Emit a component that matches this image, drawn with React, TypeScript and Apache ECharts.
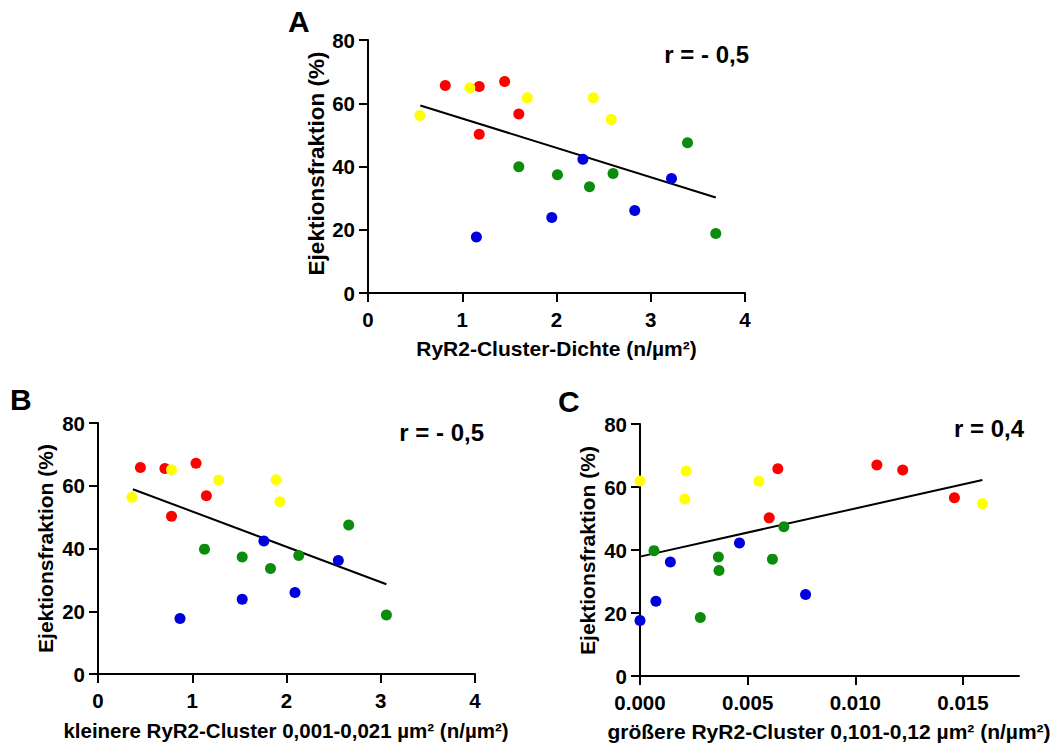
import React, { useEffect, useRef } from "react";
import * as echarts from "echarts";

// ---------- data ----------
const yTicks = [0, 20, 40, 60, 80];
const abTicks = [0, 1, 2, 3, 4];
const cTicks = [0, 0.005, 0.01, 0.015];

// Panel A: RyR2-Cluster-Dichte vs EF
const aRed = [[0.82, 65.6], [1.18, 65.3], [1.45, 66.9], [1.6, 56.6], [1.18, 50.2]];
const aYellow = [[0.55, 56.1], [1.08, 64.9], [1.69, 61.7], [2.39, 61.7], [2.58, 54.9]];
const aGreen = [[3.39, 47.5], [1.6, 39.9], [2.01, 37.4], [2.6, 37.8], [2.35, 33.6], [3.69, 18.8]];
const aBlue = [[2.28, 42.3], [3.22, 36.2], [2.83, 26.1], [1.95, 23.9], [1.15, 17.7]];
const aTrend = [[0.555, 59.3], [3.69, 30.2]];

// Panel B: kleinere Cluster
const bRed = [[0.45, 65.8], [0.71, 65.5], [1.04, 67.2], [1.15, 56.8], [0.78, 50.3]];
const bYellow = [[0.36, 56.3], [0.78, 65.1], [1.28, 61.8], [1.89, 61.9], [1.93, 54.9]];
const bGreen = [[2.66, 47.5], [1.13, 39.8], [1.53, 37.3], [2.13, 37.8], [1.83, 33.6], [3.06, 18.8]];
const bBlue = [[1.76, 42.4], [2.55, 36.2], [2.09, 26.0], [1.53, 23.8], [0.87, 17.7]];
const bTrend = [[0.37, 58.9], [3.06, 28.6]];

// Panel C: größere Cluster
const cRed = [[0.0064, 65.8], [0.006, 50.2], [0.011, 67.0], [0.0122, 65.4], [0.0146, 56.6]];
const cYellow = [[0, 61.9], [0.00214, 65.1], [0.00208, 56.2], [0.00552, 61.8], [0.0159, 54.7]];
const cGreen = [[0.00065, 39.8], [0.00364, 37.8], [0.00367, 33.5], [0.0028, 18.6], [0.00615, 37.1], [0.00668, 47.4]];
const cBlue = [[0, 17.6], [0.00074, 23.7], [0.00141, 36.2], [0.00462, 42.2], [0.00769, 25.9]];
const cTrend = [[0, 37.9], [0.0159, 62.2]];

const panelLetters = ["A", "B", "C"];
const rLabels = ["r = - 0,5", "r = - 0,5", "r = 0,4"];
const xTitles = [
  "RyR2-Cluster-Dichte (n/µm²)",
  "kleinere RyR2-Cluster 0,001-0,021 µm² (n/µm²)",
  "größere RyR2-Cluster 0,101-0,12 µm² (n/µm²)",
];
const yTitle = "Ejektionsfraktion (%)";

// ---------- styles ----------
const FONT = "'Liberation Sans', Arial, Helvetica, sans-serif";
const RED = "#FF0000";
const YELLOW = "#FFFF00";
const GREEN = "#0C8C0C";
const BLUE = "#0000DD";

const grids = [
  { left: 368, top: 40, width: 377, height: 253 },
  { left: 98, top: 423, width: 377, height: 251 },
  { left: 640, top: 424, width: 379, height: 252 },
];

const axisCommon = {
  axisLine: { show: true, onZero: false, lineStyle: { color: "#000", width: 2 } },
  axisTick: { show: true, length: 9, lineStyle: { color: "#000", width: 2 } },
  splitLine: { show: false },
};

const labelStyle = {
  color: "#000",
  fontFamily: FONT,
  fontWeight: "bold" as const,
  fontSize: 20.5,
};

function buildOption() {
  const xAxis = [
    {
      ...axisCommon,
      type: "value",
      gridIndex: 0,
      min: 0,
      max: 4,
      interval: 1,
      axisLabel: { ...labelStyle, margin: 16, customValues: abTicks },
      axisTick: { ...axisCommon.axisTick, customValues: abTicks },
    },
    {
      ...axisCommon,
      type: "value",
      gridIndex: 1,
      min: 0,
      max: 4,
      interval: 1,
      axisLabel: { ...labelStyle, margin: 16, customValues: abTicks },
      axisTick: { ...axisCommon.axisTick, customValues: abTicks },
    },
    {
      ...axisCommon,
      type: "value",
      gridIndex: 2,
      min: 0,
      max: 0.0176,
      axisLabel: {
        ...labelStyle,
        margin: 16,
        customValues: cTicks,
        formatter: (v: number) => v.toFixed(3),
      },
      axisTick: { ...axisCommon.axisTick, customValues: cTicks },
    },
  ];
  const yAxis = [0, 1, 2].map((i) => ({
    ...axisCommon,
    type: "value",
    gridIndex: i,
    min: 0,
    max: 80,
    interval: 20,
    axisLabel: { ...labelStyle, margin: 13, customValues: yTicks },
    axisTick: { ...axisCommon.axisTick, customValues: yTicks },
  }));

  const trends = [aTrend, bTrend, cTrend];
  const groups = [
    [aRed, aYellow, aGreen, aBlue],
    [bRed, bYellow, bGreen, bBlue],
    [cRed, cYellow, cGreen, cBlue],
  ];
  const colors = [RED, YELLOW, GREEN, BLUE];

  const series: any[] = [];
  trends.forEach((t, i) => {
    series.push({
      type: "line",
      xAxisIndex: i,
      yAxisIndex: i,
      data: t,
      showSymbol: false,
      symbol: "none",
      lineStyle: { color: "#000", width: 2 },
      z: 2,
      silent: true,
    });
  });
  groups.forEach((g, i) => {
    g.forEach((d, k) => {
      series.push({
        type: "scatter",
        xAxisIndex: i,
        yAxisIndex: i,
        data: d,
        symbol: "circle",
        symbolSize: 11,
        clip: false,
        itemStyle: { color: colors[k], opacity: 1 },
        z: 3,
      });
    });
  });

  const txt = (
    text: string,
    x: number,
    y: number,
    size: number,
    align: string,
    rotation = 0
  ) => ({
    type: "text",
    x,
    y,
    rotation,
    silent: true,
    style: {
      text,
      fill: "#000",
      font: `bold ${size}px ${FONT}`,
      textAlign: align,
      textVerticalAlign: "middle",
      verticalAlign: "middle",
    },
  });

  const graphic = [
    txt(panelLetters[0], 288, 21, 30, "left"),
    txt(panelLetters[1], 10, 399, 30, "left"),
    txt(panelLetters[2], 558, 401, 30, "left"),
    txt(rLabels[0], 749, 54, 24, "right"),
    txt(rLabels[1], 484, 432, 24, "right"),
    txt(rLabels[2], 1024, 428, 24, "right"),
    txt(xTitles[0], 556.5, 348, 21, "center"),
    txt(xTitles[1], 286, 730.5, 20.5, "center"),
    txt(xTitles[2], 829, 731.5, 21, "center"),
    txt(yTitle, 316, 163.5, 22.5, "center", Math.PI / 2),
    txt(yTitle, 45, 548.5, 21, "center", Math.PI / 2),
    txt(yTitle, 587.5, 550.5, 21, "center", Math.PI / 2),
  ];

  return {
    animation: false,
    backgroundColor: "#fff",
    grid: grids.map((g) => ({ ...g, containLabel: false })),
    xAxis,
    yAxis,
    series,
    graphic,
  };
}

export default function App() {
  const ref = useRef<HTMLDivElement>(null);
  useEffect(() => {
    if (!ref.current) return;
    const chart = echarts.init(ref.current, undefined, { renderer: "svg" });
    chart.setOption(buildOption() as any);
    return () => chart.dispose();
  }, []);
  return (
    <div
      ref={ref}
      style={{ position: "fixed", left: 0, top: 0, width: 1054, height: 747, background: "#fff" }}
    />
  );
}
